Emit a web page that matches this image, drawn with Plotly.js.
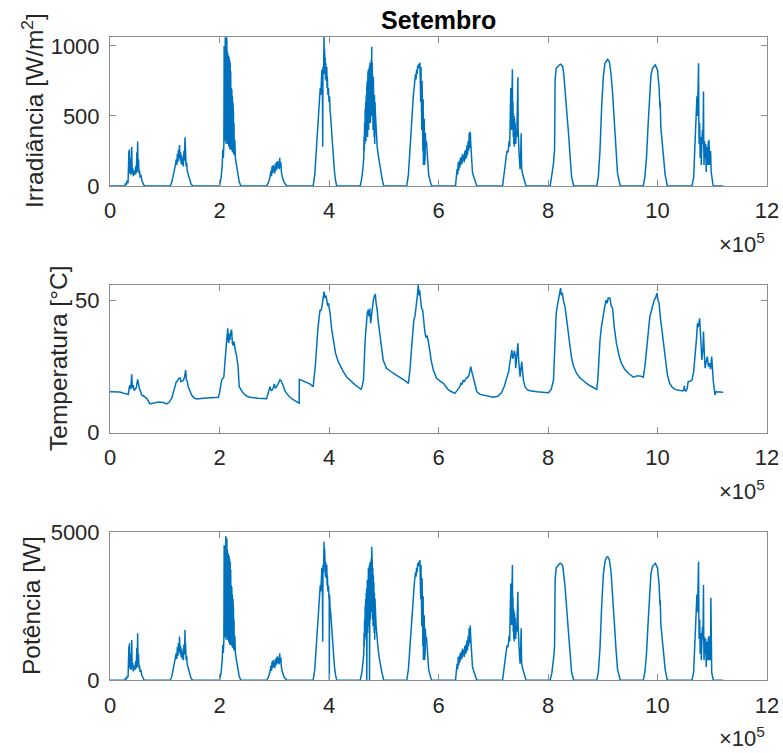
<!DOCTYPE html>
<html><head><meta charset="utf-8">
<script src="https://cdn.plot.ly/plotly-3.0.1.min.js"></script>
<style>html,body{margin:0;padding:0;background:#fff}#chart{width:783px;height:753px}</style>
</head><body><div id="chart"></div>
<script>
// sample index (in units of 10^5) and value pairs
const irradianceSamples = [
[0,0],[0.27,0],[0.285,20],[0.30,8],[0.315,40],[0.33,20],[0.345,250],[0.35,90],[0.355,262],[0.36,110],[0.37,200],[0.38,80],[0.39,150],[0.397,281],[0.405,90],[0.415,130],[0.425,70],[0.44,110],[0.455,80],[0.47,140],[0.48,90],[0.49,240],[0.497,100],[0.505,317],[0.512,120],[0.52,190],[0.53,90],[0.54,110],[0.55,60],[0.565,80],[0.58,40],[0.60,20],[0.62,5],[0.64,0],
[1.10,0],[1.13,30],[1.16,80],[1.19,140],[1.21,190],[1.22,150],[1.23,230],[1.24,170],[1.25,260],[1.26,200],[1.27,293],[1.28,180],[1.29,240],[1.30,160],[1.31,220],[1.32,150],[1.33,200],[1.34,140],[1.35,250],[1.36,180],[1.37,348],[1.375,200],[1.38,260],[1.39,140],[1.40,170],[1.41,110],[1.43,80],[1.45,50],[1.48,15],[1.51,0],
[2.00,0],[2.03,60],[2.05,150],[2.06,260],[2.07,200],[2.08,300],[2.085,1000],[2.09,300],[2.095,950],[2.10,330],[2.105,1060],[2.11,320],[2.115,1040],[2.12,300],[2.125,1066],[2.13,350],[2.135,1040],[2.14,330],[2.145,960],[2.15,300],[2.155,940],[2.16,320],[2.165,930],[2.17,280],[2.175,920],[2.18,300],[2.185,900],[2.19,260],[2.195,880],[2.20,300],[2.205,820],[2.21,260],[2.215,700],[2.22,280],[2.225,690],[2.23,250],[2.235,640],[2.24,240],[2.245,600],[2.25,250],[2.255,520],[2.26,230],[2.265,450],[2.27,220],[2.28,330],[2.29,200],[2.31,150],[2.33,90],[2.36,30],[2.39,0],
[2.86,0],[2.89,20],[2.92,60],[2.94,110],[2.95,70],[2.96,140],[2.97,90],[2.98,150],[2.99,100],[3.00,140],[3.01,90],[3.02,160],[3.03,110],[3.04,170],[3.05,120],[3.06,180],[3.07,130],[3.08,170],[3.09,120],[3.10,202],[3.11,130],[3.12,170],[3.13,100],[3.15,60],[3.18,25],[3.23,0],
[3.71,0],[3.74,80],[3.78,330],[3.81,520],[3.84,700],[3.85,650],[3.86,790],[3.87,830],[3.88,700],[3.885,280],[3.89,850],[3.90,800],[3.905,1000],[3.91,1066],[3.915,850],[3.92,980],[3.925,800],[3.93,920],[3.935,760],[3.94,880],[3.95,750],[3.96,850],[3.965,700],[3.97,780],[3.98,650],[3.99,700],[4.00,600],[4.01,640],[4.02,530],[4.03,500],[4.05,380],[4.07,250],[4.08,200],[4.10,100],[4.12,40],[4.14,0],
[4.57,0],[4.60,60],[4.62,130],[4.635,200],[4.64,350],[4.645,250],[4.65,450],[4.655,300],[4.66,550],[4.665,350],[4.67,600],[4.675,320],[4.68,650],[4.685,380],[4.69,700],[4.695,400],[4.70,750],[4.705,350],[4.71,800],[4.715,420],[4.72,830],[4.725,400],[4.73,840],[4.735,450],[4.74,860],[4.745,500],[4.75,880],[4.755,450],[4.76,850],[4.765,550],[4.77,900],[4.775,500],[4.78,995],[4.785,550],[4.79,880],[4.795,450],[4.80,830],[4.805,400],[4.81,780],[4.815,400],[4.82,720],[4.825,350],[4.83,650],[4.835,300],[4.84,600],[4.85,500],[4.86,400],[4.87,350],[4.88,280],[4.90,220],[4.92,160],[4.94,110],[4.97,50],[5.00,0],
[5.42,0],[5.45,80],[5.48,280],[5.51,450],[5.54,640],[5.56,720],[5.58,800],[5.59,760],[5.60,830],[5.61,800],[5.62,860],[5.63,840],[5.64,870],[5.65,850],[5.66,881],[5.665,700],[5.67,870],[5.675,600],[5.68,850],[5.685,500],[5.69,830],[5.695,400],[5.70,750],[5.705,300],[5.71,700],[5.715,250],[5.72,620],[5.725,150],[5.73,550],[5.735,200],[5.74,480],[5.745,150],[5.75,420],[5.755,200],[5.76,380],[5.77,280],[5.78,320],[5.79,250],[5.80,150],[5.82,80],[5.85,30],[5.875,0],
[6.31,0],[6.33,60],[6.34,120],[6.35,80],[6.36,170],[6.37,110],[6.38,180],[6.39,130],[6.40,200],[6.41,150],[6.42,210],[6.43,160],[6.44,230],[6.45,180],[6.46,220],[6.47,170],[6.48,250],[6.49,190],[6.50,260],[6.51,200],[6.52,290],[6.53,220],[6.54,320],[6.55,250],[6.56,380],[6.57,270],[6.58,388],[6.59,300],[6.60,250],[6.61,150],[6.62,100],[6.64,70],[6.67,30],[6.70,0],
[7.17,0],[7.19,60],[7.21,160],[7.23,220],[7.25,250],[7.27,240],[7.29,320],[7.30,280],[7.31,600],[7.32,700],[7.33,400],[7.34,750],[7.35,833],[7.355,400],[7.36,600],[7.365,350],[7.37,520],[7.375,300],[7.38,500],[7.385,280],[7.39,480],[7.395,300],[7.40,450],[7.41,300],[7.42,400],[7.43,350],[7.44,600],[7.45,776],[7.455,400],[7.46,300],[7.47,250],[7.48,180],[7.49,120],[7.50,200],[7.51,376],[7.515,200],[7.52,120],[7.54,80],[7.57,30],[7.60,0],
[8.04,0],[8.07,67],[8.10,162],[8.12,257],[8.125,500],[8.13,757],[8.15,840],[8.17,850],[8.19,857],[8.21,865],[8.23,869],[8.25,862],[8.27,852],[8.29,790],[8.31,710],[8.34,543],[8.37,400],[8.40,210],[8.43,67],[8.47,0],
[8.89,0],[8.92,67],[8.95,257],[8.98,567],[9.01,781],[9.04,876],[9.065,895],[9.09,905],[9.12,888],[9.15,805],[9.18,662],[9.21,448],[9.24,257],[9.27,90],[9.32,0],
[9.74,0],[9.77,67],[9.80,210],[9.83,448],[9.86,686],[9.88,790],[9.91,840],[9.94,860],[9.96,864],[10.00,829],[10.03,700],[10.045,560],[10.05,600],[10.06,420],[10.08,330],[10.11,200],[10.14,80],[10.18,0],
[10.63,0],[10.66,60],[10.69,300],[10.70,450],[10.72,640],[10.73,500],[10.74,700],[10.75,876],[10.755,500],[10.76,300],[10.77,450],[10.78,200],[10.79,350],[10.80,150],[10.81,300],[10.82,400],[10.83,300],[10.84,674],[10.845,300],[10.85,150],[10.86,320],[10.87,200],[10.88,300],[10.89,100],[10.90,280],[10.91,150],[10.92,250],[10.93,320],[10.935,150],[10.94,330],[10.95,200],[10.96,150],[10.97,250],[10.98,100],[10.99,60],[11.01,20],[11.02,0],[11.2,0]
];

const temperatureSamples = [
[0,15.5],[0.18,15.4],[0.27,14.8],[0.335,14.5],[0.35,17],[0.365,18],[0.38,16.5],[0.396,22.1],[0.41,17],[0.426,18],[0.44,16],[0.457,16.5],[0.48,17],[0.505,20.2],[0.52,17.5],[0.536,16.8],[0.56,15.5],[0.578,14.3],[0.62,13.8],[0.67,13.0],[0.73,10.9],[0.79,11.2],[0.883,11.6],[0.974,11.4],[1.035,10.9],[1.08,11.5],[1.126,13.0],[1.16,15.5],[1.187,18.0],[1.21,19.2],[1.23,19.5],[1.25,20.5],[1.279,20.8],[1.295,19.3],[1.31,19.5],[1.34,19.8],[1.36,21],[1.382,23.7],[1.395,20],[1.41,19.5],[1.43,17.4],[1.46,15.5],[1.49,14.3],[1.53,13.2],[1.583,12.8],[1.705,13.0],[1.85,13.2],[1.98,13.4],
[2.00,15],[2.02,18.7],[2.04,20],[2.06,20.5],[2.08,21.2],[2.10,27],[2.12,32.6],[2.135,36],[2.15,39.5],[2.16,35],[2.17,34],[2.18,37.5],[2.19,35.1],[2.205,38],[2.22,39],[2.235,34],[2.25,33],[2.265,34.5],[2.28,32],[2.295,30.5],[2.31,29.4],[2.325,27],[2.34,25],[2.36,17.4],[2.40,15.8],[2.435,14.9],[2.50,13.8],[2.557,13.4],[2.70,13.0],[2.86,12.9],
[2.89,15],[2.92,17.4],[2.935,16.5],[2.95,15.8],[2.98,16.8],[3.00,18.5],[3.02,16.8],[3.04,17.4],[3.07,18.5],[3.105,20.0],[3.13,19.5],[3.15,18.5],[3.196,15.8],[3.24,14.5],[3.29,13.3],[3.36,12.3],[3.44,11.4],[3.455,11.2],[3.458,20.2],[3.50,19.8],[3.56,19.3],[3.60,19.0],[3.65,18.5],[3.71,17.4],
[3.745,24],[3.775,32.6],[3.80,40],[3.836,46.5],[3.85,46],[3.87,47.5],[3.89,52],[3.91,53.4],[3.925,51],[3.94,52],[3.96,50.2],[3.975,48],[3.99,49],[4.02,45.2],[4.05,39],[4.08,35.1],[4.12,30],[4.17,26.9],[4.25,23.5],[4.32,21.2],[4.40,19.5],[4.475,18.1],[4.53,17.3],[4.585,16.4],
[4.60,17],[4.63,20.0],[4.66,35],[4.675,40.2],[4.69,44],[4.70,45.5],[4.72,46.5],[4.73,44],[4.745,47],[4.76,41.4],[4.78,45],[4.795,49],[4.81,50.2],[4.826,51.5],[4.846,52.5],[4.86,49],[4.88,46.5],[4.90,42],[4.93,36.4],[4.96,31],[4.99,27.5],[5.05,24.4],[5.10,23.5],[5.175,22.5],[5.25,21.5],[5.33,20.6],[5.40,19.5],[5.45,18.7],
[5.48,24],[5.51,32.6],[5.53,38],[5.55,42.7],[5.57,44],[5.59,47],[5.60,48],[5.615,52],[5.63,55.9],[5.645,52],[5.655,54],[5.67,50.2],[5.69,47],[5.71,46.5],[5.73,41],[5.75,38.3],[5.77,36],[5.79,36.8],[5.81,35.1],[5.845,30],[5.87,27],[5.905,23.7],[5.966,20.6],[6.03,19.5],[6.09,18.7],[6.14,17.3],[6.18,16.2],[6.24,15.5],[6.30,14.9],
[6.34,16],[6.37,17],[6.39,17.4],[6.41,18.8],[6.43,18.2],[6.45,19.9],[6.47,19.2],[6.50,20.5],[6.545,21.2],[6.565,22.5],[6.59,25.0],[6.61,23],[6.64,20.6],[6.67,17.5],[6.70,15.5],[6.76,14.5],[6.85,14.0],[7.0,13.4],[7.08,13.8],[7.15,15.1],
[7.20,17.5],[7.25,21.2],[7.28,23],[7.30,26],[7.32,28],[7.34,31.3],[7.355,28],[7.37,29],[7.385,31],[7.40,29.4],[7.41,24.4],[7.425,28],[7.44,30],[7.45,33.8],[7.465,27],[7.49,21.2],[7.505,24],[7.52,26.9],[7.55,20],[7.58,17.4],[7.62,16.3],[7.67,15.9],[7.80,15.5],[8.01,15.1],
[8.06,16.5],[8.10,19.9],[8.12,30],[8.15,45.2],[8.17,48],[8.19,50.2],[8.21,52.5],[8.23,54.7],[8.245,52],[8.26,53],[8.28,50.2],[8.31,47.7],[8.34,43],[8.37,38.9],[8.40,33],[8.43,28.5],[8.46,25.6],[8.52,22.5],[8.59,20.6],[8.67,19.3],[8.74,18.1],[8.82,17.2],[8.89,16.4],
[8.91,20],[8.93,28],[8.95,35.1],[8.975,40],[9.00,43.9],[9.03,47],[9.06,50.2],[9.08,49],[9.10,51],[9.13,50.9],[9.155,48],[9.18,47.1],[9.21,40],[9.25,33.8],[9.30,29],[9.34,26.3],[9.40,24],[9.47,22.5],[9.56,21.0],[9.62,21.5],[9.68,21.5],[9.74,21.0],
[9.77,25],[9.81,32.6],[9.835,38],[9.86,43.9],[9.90,47],[9.94,50.2],[9.965,51],[9.99,52.8],[10.01,50],[10.03,49],[10.05,44],[10.08,38.9],[10.11,32],[10.14,27.5],[10.18,22],[10.22,18.7],[10.27,17.2],[10.32,16.4],[10.40,16.0],[10.46,15.8],[10.48,16.2],[10.49,17.7],[10.50,16],[10.52,15.8],[10.54,16.5],[10.56,19.3],[10.60,19.5],[10.63,19.9],
[10.66,23],[10.69,28.8],[10.71,35],[10.73,41.4],[10.745,40],[10.77,43.3],[10.79,35],[10.81,27.5],[10.83,32],[10.84,38.3],[10.855,30],[10.87,24.4],[10.89,27],[10.91,28.8],[10.93,25],[10.95,26.3],[10.97,24],[10.99,28.8],[11.02,19.3],[11.04,16],[11.05,14.3],[11.07,15.5],[11.12,15.5],[11.2,15.3]
];

const powerSamples = [
[0,0],[0.27,0],[0.285,90],[0.30,30],[0.315,150],[0.33,100],[0.345,1150],[0.35,400],[0.355,1250],[0.36,500],[0.37,900],[0.38,350],[0.39,700],[0.397,1360],[0.405,400],[0.415,600],[0.425,300],[0.44,500],[0.455,350],[0.47,650],[0.48,400],[0.49,1100],[0.497,450],[0.505,1590],[0.512,550],[0.52,900],[0.53,400],[0.54,500],[0.55,280],[0.565,350],[0.58,180],[0.60,90],[0.62,20],[0.64,0],
[1.10,0],[1.13,140],[1.16,390],[1.19,680],[1.21,920],[1.22,720],[1.23,1120],[1.24,820],[1.25,1260],[1.26,970],[1.27,1475],[1.28,880],[1.29,1170],[1.30,780],[1.31,1070],[1.32,730],[1.33,970],[1.34,680],[1.35,1210],[1.36,870],[1.37,1700],[1.375,970],[1.38,1260],[1.39,680],[1.40,830],[1.41,540],[1.43,390],[1.45,240],[1.48,70],[1.51,0],
[2.00,0],[2.03,270],[2.05,680],[2.06,1190],[2.07,920],[2.08,1370],[2.085,4560],[2.09,1370],[2.095,4330],[2.10,1500],[2.105,4850],[2.11,1460],[2.115,4876],[2.12,1370],[2.125,4700],[2.13,1600],[2.135,4800],[2.14,1500],[2.145,4400],[2.15,1370],[2.155,4300],[2.16,1460],[2.165,4250],[2.17,1280],[2.175,4200],[2.18,1370],[2.185,4100],[2.19,1190],[2.195,4000],[2.20,1370],[2.205,3750],[2.21,1190],[2.215,3200],[2.22,1280],[2.225,3150],[2.23,1140],[2.235,2900],[2.24,1100],[2.245,2750],[2.25,1140],[2.255,2400],[2.26,1050],[2.265,2050],[2.27,1000],[2.28,1500],[2.29,910],[2.31,680],[2.33,410],[2.36,140],[2.39,0],
[2.86,0],[2.89,90],[2.92,270],[2.94,500],[2.95,320],[2.96,630],[2.97,410],[2.98,680],[2.99,450],[3.00,630],[3.01,410],[3.02,720],[3.03,500],[3.04,770],[3.05,540],[3.06,810],[3.07,590],[3.08,770],[3.09,540],[3.10,912],[3.11,590],[3.12,770],[3.13,450],[3.15,270],[3.18,110],[3.23,0],
[3.71,0],[3.74,370],[3.78,1500],[3.81,2400],[3.84,3200],[3.85,3000],[3.86,3600],[3.87,3800],[3.88,3200],[3.885,1300],[3.89,3900],[3.90,3650],[3.905,4400],[3.91,4684],[3.915,3900],[3.92,4450],[3.925,3650],[3.93,4200],[3.935,3500],[3.94,4000],[3.95,3450],[3.96,3900],[3.965,3200],[3.97,3550],[3.98,3000],[3.99,3200],[4.00,2750],[4.004,2700],[4.006,0],[4.008,2900],[4.01,2900],[4.02,2450],[4.03,2300],[4.05,1750],[4.07,1150],[4.08,900],[4.10,450],[4.12,180],[4.14,0],
[4.57,0],[4.60,270],[4.62,600],[4.635,900],[4.64,1600],[4.645,1150],[4.65,2050],[4.655,1370],[4.66,2500],[4.665,1600],[4.67,2750],[4.675,1460],[4.68,2950],[4.685,1740],[4.688,3100],[4.69,0],[4.692,3200],[4.695,1830],[4.70,3400],[4.705,1600],[4.71,3650],[4.715,1900],[4.72,3800],[4.725,1830],[4.73,3850],[4.735,2050],[4.738,3900],[4.74,0],[4.742,3900],[4.745,2300],[4.75,4000],[4.755,2050],[4.76,3900],[4.765,2500],[4.77,4100],[4.775,2300],[4.78,4515],[4.785,2500],[4.79,4000],[4.795,2050],[4.80,3800],[4.805,1830],[4.81,3550],[4.815,1830],[4.82,3300],[4.825,1600],[4.83,2950],[4.835,1370],[4.84,2750],[4.85,2300],[4.86,1830],[4.87,1600],[4.88,1280],[4.90,1000],[4.92,730],[4.94,500],[4.97,230],[5.00,0],
[5.42,0],[5.45,370],[5.48,1280],[5.51,2050],[5.54,2950],[5.56,3300],[5.58,3650],[5.59,3500],[5.60,3800],[5.61,3650],[5.62,3950],[5.63,3850],[5.64,4000],[5.65,3900],[5.66,4065],[5.665,3200],[5.67,4000],[5.675,2750],[5.68,3900],[5.685,2300],[5.69,3800],[5.695,1830],[5.70,3450],[5.705,1370],[5.71,3200],[5.715,1150],[5.72,2850],[5.725,690],[5.73,2500],[5.735,900],[5.74,2200],[5.745,690],[5.75,1900],[5.755,900],[5.76,1750],[5.77,1280],[5.78,1460],[5.79,1150],[5.80,690],[5.82,370],[5.85,140],[5.875,0],
[6.31,0],[6.33,280],[6.34,560],[6.35,370],[6.36,790],[6.37,510],[6.38,840],[6.39,600],[6.40,930],[6.41,700],[6.42,980],[6.43,740],[6.44,1070],[6.45,840],[6.46,1020],[6.47,790],[6.48,1160],[6.49,880],[6.50,1210],[6.51,930],[6.52,1350],[6.53,1020],[6.54,1490],[6.55,1160],[6.56,1770],[6.57,1260],[6.58,1847],[6.59,1400],[6.60,1160],[6.61,700],[6.62,470],[6.64,330],[6.67,140],[6.70,0],
[7.17,0],[7.19,280],[7.21,750],[7.23,1030],[7.25,1170],[7.27,1120],[7.29,1500],[7.30,1310],[7.31,2800],[7.32,3270],[7.33,1870],[7.34,3500],[7.35,3896],[7.355,1870],[7.36,2800],[7.365,1640],[7.37,2430],[7.375,1400],[7.38,2340],[7.385,1310],[7.39,2250],[7.395,1400],[7.40,2100],[7.41,1400],[7.42,1870],[7.43,1640],[7.44,2450],[7.45,2995],[7.455,1870],[7.46,1400],[7.47,1170],[7.48,840],[7.49,560],[7.50,930],[7.51,1760],[7.515,930],[7.52,560],[7.54,370],[7.57,140],[7.60,0],
[8.04,0],[8.07,250],[8.10,700],[8.12,1150],[8.125,2200],[8.13,3400],[8.15,3800],[8.17,3850],[8.19,3900],[8.21,3940],[8.23,3952],[8.25,3920],[8.27,3850],[8.29,3550],[8.31,3200],[8.34,2450],[8.37,1800],[8.40,900],[8.43,280],[8.47,0],
[8.89,0],[8.92,280],[8.95,1100],[8.98,2500],[9.01,3550],[9.04,4000],[9.065,4150],[9.09,4177],[9.12,4080],[9.15,3700],[9.18,3000],[9.21,2000],[9.24,1100],[9.27,370],[9.32,0],
[9.74,0],[9.77,280],[9.80,930],[9.83,2000],[9.86,3100],[9.88,3600],[9.91,3850],[9.94,3940],[9.96,3952],[10.00,3800],[10.03,3200],[10.045,2550],[10.05,2700],[10.06,1900],[10.08,1500],[10.11,900],[10.14,370],[10.18,0],
[10.63,0],[10.66,280],[10.69,1400],[10.70,2050],[10.72,2900],[10.73,2300],[10.74,3200],[10.75,4008],[10.755,2300],[10.76,1400],[10.77,2050],[10.78,900],[10.79,1600],[10.80,680],[10.81,1400],[10.82,1800],[10.83,1400],[10.84,3220],[10.845,1400],[10.85,680],[10.86,1450],[10.87,900],[10.88,1400],[10.89,450],[10.90,1300],[10.91,680],[10.92,1150],[10.93,1450],[10.935,680],[10.94,1500],[10.95,900],[10.96,680],[10.97,1150],[10.975,2792],[10.98,450],[10.99,270],[11.01,90],[11.02,0],[11.2,0]
];

const xTickVals = [0, 2, 4, 6, 8, 10, 12];
const xTickText = ['0', '2', '4', '6', '8', '10', '12'];
const irrTicks = [0, 500, 1000];
const tempTicks = [0, 50];
const powTicks = [0, 5000];
const titleText = 'Setembro';
const yTitles = ['Irradiância [W/m<sup>2</sup>]', 'Temperatura [°C]', 'Potência [W]'];

const W = 783, H = 753;
const px = v => v / W;
const py = v => 1 - v / H;
const FONT = 'Liberation Sans, Arial, Helvetica, sans-serif';
const LINE = '#0072BD';
const AX = '#8c8c8c';
const TXT = '#262626';

function col(a, i) { return a.map(p => p[i]); }

const common = {
  showline: true, linecolor: AX, linewidth: 1, mirror: 'allticks',
  ticks: 'inside', ticklen: 6, tickcolor: AX, tickwidth: 1,
  showgrid: false, zeroline: false, fixedrange: true,
  tickfont: {family: FONT, size: 22, color: TXT}
};
function xAx(anchor) {
  return Object.assign({}, common, {
    domain: [px(110), px(767)], range: [0, 12], tickmode: 'array',
    tickvals: xTickVals, ticktext: xTickText, anchor: anchor, ticklabelstandoff: 5
  });
}
function yAx(anchor, dom, range, ticks) {
  return Object.assign({}, common, {
    domain: dom, range: range, tickmode: 'array', tickvals: ticks,
    ticktext: ticks.map(String), anchor: anchor, ticklabelstandoff: 5
  });
}

const traces = [
  {x: col(irradianceSamples, 0), y: col(irradianceSamples, 1), xaxis: 'x', yaxis: 'y'},
  {x: col(temperatureSamples, 0), y: col(temperatureSamples, 1), xaxis: 'x2', yaxis: 'y2'},
  {x: col(powerSamples, 0), y: col(powerSamples, 1), xaxis: 'x3', yaxis: 'y3'}
].map(t => Object.assign(t, {type: 'scatter', mode: 'lines', line: {color: LINE, width: 1.5}, hoverinfo: 'skip'}));

function ann(text, x, y, opts) {
  return Object.assign({text: text, x: px(x), y: py(y), xref: 'paper', yref: 'paper',
    showarrow: false, xanchor: 'center', yanchor: 'middle',
    font: {family: FONT, size: 22, color: TXT}}, opts || {});
}

const layout = {
  width: W, height: H, margin: {l: 0, r: 0, t: 0, b: 0},
  paper_bgcolor: '#fff', plot_bgcolor: '#fff', showlegend: false,
  xaxis: xAx('y'), yaxis: yAx('x', [py(186), py(36.7)], [0, 1066], irrTicks),
  xaxis2: xAx('y2'), yaxis2: yAx('x2', [py(432.7), py(285)], [0, 55.9], tempTicks),
  xaxis3: xAx('y3'), yaxis3: yAx('x3', [py(680.3), py(532.3)], [0, 5000], powTicks),
  annotations: [
    ann('<b>' + titleText + '</b>', 438.5, 20, {font: {family: FONT, size: 25, color: '#000'}}),
    ann(yTitles[0], 33, 111, {textangle: -90, font: {family: FONT, size: 24.5, color: TXT}}),
    ann(yTitles[1], 58, 359, {textangle: -90, font: {family: FONT, size: 24.5, color: TXT}}),
    ann(yTitles[2], 31, 606, {textangle: -90, font: {family: FONT, size: 24.5, color: TXT}}),
    ann('×10<sup>5</sup>', 767, 243, {xanchor: 'right'}),
    ann('×10<sup>5</sup>', 767, 490, {xanchor: 'right'}),
    ann('×10<sup>5</sup>', 767, 737, {xanchor: 'right'})
  ]
};

Plotly.newPlot('chart', traces, layout, {displayModeBar: false, staticPlot: true});
</script></body></html>
